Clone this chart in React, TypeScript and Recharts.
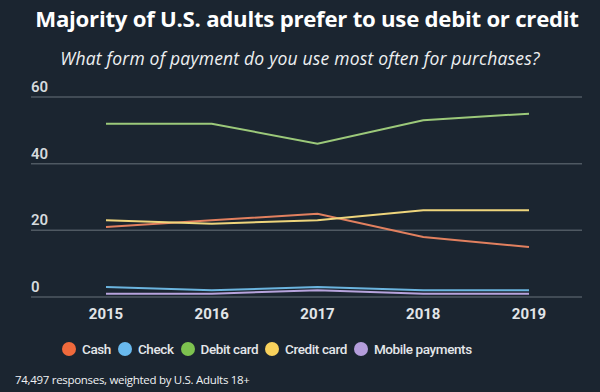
import { LineChart, Line, XAxis, YAxis, CartesianGrid } from "recharts";

const years = ["2015", "2016", "2017", "2018", "2019"];
const cash = [21, 23, 25, 18, 15];
const check = [3, 2, 3, 2, 2];
const debitCard = [52, 52, 46, 53, 55];
const creditCard = [23, 22, 23, 26, 26];
const mobilePayments = [1, 1, 2, 1, 1];
const yTicks = [0, 20, 40, 60];

const series = [
  { key: "cash", name: "Cash", values: cash, line: "#e2805f", dot: "#f06a3c" },
  { key: "check", name: "Check", values: check, line: "#6bb4de", dot: "#69b9ee" },
  { key: "debit", name: "Debit card", values: debitCard, line: "#9cc97a", dot: "#7dc24f" },
  { key: "credit", name: "Credit card", values: creditCard, line: "#eed57c", dot: "#f8d15c" },
  { key: "mobile", name: "Mobile payments", values: mobilePayments, line: "#b7a3dc", dot: "#b49ddb" },
];

const data = years.map((year, i) => {
  const row: Record<string, string | number> = { year };
  series.forEach((s) => {
    row[s.key] = s.values[i];
  });
  return row;
});

const BG = "#1b2530";

function YTick({ y, payload }: { y?: number; payload?: { value: number } }) {
  return (
    <text
      x={31}
      y={(y ?? 0) - 5}
      fill="#d6dadd"
      fontSize={15}
      fontWeight={600}
      fontFamily="Roboto"
      textAnchor="start"
    >
      {payload?.value}
    </text>
  );
}

function XTick({ x, y, payload }: { x?: number; y?: number; payload?: { value: string } }) {
  return (
    <text
      x={x}
      y={(y ?? 0) + 14}
      fill="#e2e5e8"
      fontSize={15}
      fontWeight={700}
      fontFamily="Roboto"
      textAnchor="middle"
    >
      {payload?.value}
    </text>
  );
}

export default function App() {
  return (
    <div
      style={{
        position: "absolute",
        left: 0,
        top: 0,
        width: 600,
        height: 392,
        background: BG,
        overflow: "hidden",
        fontFamily: "Roboto",
      }}
    >
      <div
        style={{
          position: "absolute",
          top: 3,
          left: 0,
          width: 600,
          textAlign: "center",
          paddingLeft: 14,
          boxSizing: "border-box",
          color: "#ffffff",
          fontFamily: "'Open Sans'",
          fontWeight: 700,
          fontSize: 22.2,
          letterSpacing: -0.25,
        }}
      >
        Majority of U.S. adults prefer to use debit or credit
      </div>
      <div
        style={{
          position: "absolute",
          top: 46,
          left: 0,
          width: 600,
          textAlign: "center",
          color: "#eef0f2",
          fontFamily: "'Open Sans'",
          fontStyle: "italic",
          fontSize: 17.5,
          letterSpacing: 0.2,
        }}
      >
        What form of payment do you use most often for purchases?
      </div>

      <div style={{ position: "absolute", top: 70, left: 0 }}>
        <LineChart
          width={600}
          height={260}
          data={data}
          margin={{ top: 27, right: 18, left: 0, bottom: 0 }}
        >
          <CartesianGrid vertical={false} stroke="#4f5962" strokeWidth={1.5} />
          <XAxis
            dataKey="year"
            padding={{ left: 75, right: 53 }}
            axisLine={false}
            tickLine={false}
            height={33}
            tick={<XTick />}
            interval={0}
          />
          <YAxis
            domain={[0, 60]}
            ticks={yTicks}
            width={31}
            axisLine={false}
            tickLine={false}
            tick={<YTick />}
          />
          {series.map((s) => (
            <Line
              key={s.key}
              dataKey={s.key}
              name={s.name}
              stroke={s.line}
              strokeWidth={2}
              dot={false}
              activeDot={false}
              isAnimationActive={false}
            />
          ))}
        </LineChart>
      </div>

      <div
        style={{
          position: "absolute",
          top: 341,
          left: 62,
          display: "flex",
          alignItems: "center",
          gap: 7,
        }}
      >
        {series.map((s) => (
          <div key={s.key} style={{ display: "flex", alignItems: "center", gap: 6 }}>
            <span
              style={{
                width: 14,
                height: 14,
                borderRadius: "50%",
                background: s.dot,
                display: "inline-block",
              }}
            />
            <span style={{ color: "#e4e7ea", fontSize: 13.5, fontWeight: 500, letterSpacing: -0.4 }}>
              {s.name}
            </span>
          </div>
        ))}
      </div>

      <div
        style={{
          position: "absolute",
          top: 372,
          left: 15,
          color: "#f0f2f4",
          fontFamily: "'Open Sans'",
          fontSize: 11.5,
          letterSpacing: -0.3,
        }}
      >
        74,497 responses, weighted by U.S. Adults 18+
      </div>
    </div>
  );
}
